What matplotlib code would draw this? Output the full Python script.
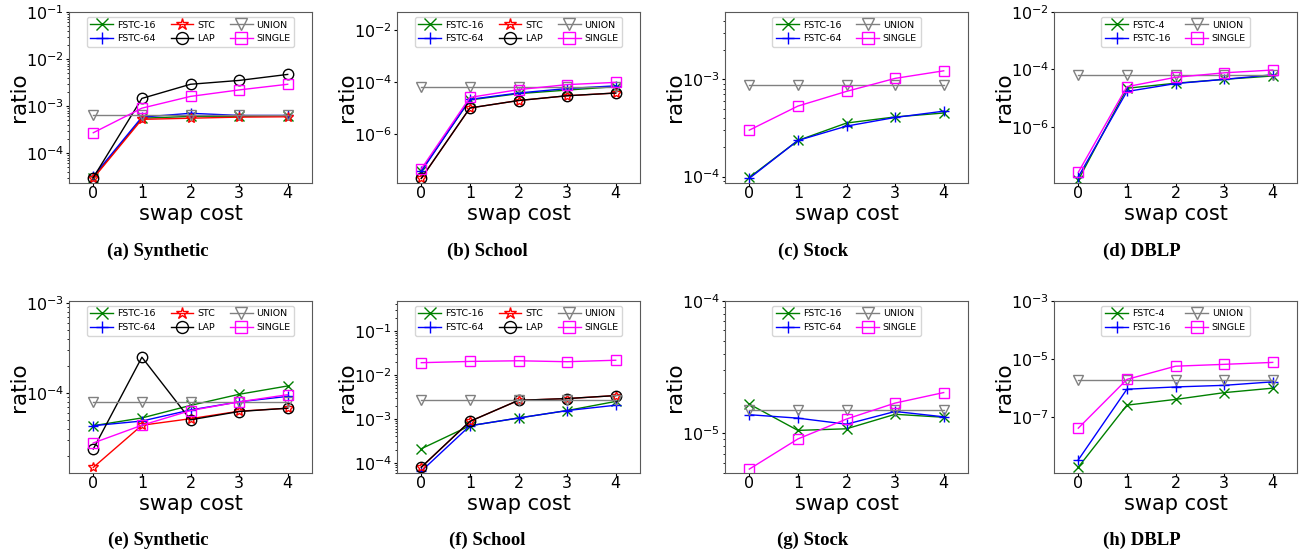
import numpy as np
import matplotlib
matplotlib.use("Agg")
import matplotlib.pyplot as plt

swap_cost = [0, 1, 2, 3, 4]

# top row
a_fstc16 = [3.0e-5, 5.5e-4, 6.0e-4, 6.0e-4, 6.2e-4]
a_fstc64 = [3.2e-5, 5.8e-4, 7.0e-4, 6.3e-4, 6.3e-4]
a_stc = [2.9e-5, 5.2e-4, 5.5e-4, 5.8e-4, 5.9e-4]
a_lap = [3.0e-5, 1.45e-3, 2.9e-3, 3.5e-3, 4.7e-3]
a_union = [6.5e-4, 6.5e-4, 6.5e-4, 6.5e-4, 6.5e-4]
a_single = [2.7e-4, 9.0e-4, 1.6e-3, 2.2e-3, 2.9e-3]

b_fstc16 = [3.8e-8, 2.0e-5, 3.5e-5, 4.8e-5, 6.5e-5]
b_fstc64 = [3.5e-8, 2.1e-5, 3.7e-5, 5.5e-5, 7.0e-5]
b_stc = [1.9e-8, 9.8e-6, 1.9e-5, 2.9e-5, 3.7e-5]
b_lap = [1.9e-8, 9.8e-6, 1.9e-5, 2.9e-5, 3.7e-5]
b_union = [6.4e-5, 6.4e-5, 6.4e-5, 6.4e-5, 6.4e-5]
b_single = [4.4e-8, 2.5e-5, 5.0e-5, 7.8e-5, 9.5e-5]

c_fstc16 = [9.8e-5, 2.35e-4, 3.55e-4, 4.1e-4, 4.5e-4]
c_fstc64 = [9.6e-5, 2.35e-4, 3.3e-4, 4.05e-4, 4.7e-4]
c_union = [8.7e-4, 8.7e-4, 8.7e-4, 8.7e-4, 8.7e-4]
c_single = [3.0e-4, 5.3e-4, 7.5e-4, 1.02e-3, 1.22e-3]

d_fstc4 = [1.4e-8, 2.2e-5, 3.3e-5, 4.5e-5, 5.9e-5]
d_fstc16 = [1.8e-8, 1.7e-5, 3.2e-5, 4.5e-5, 6.5e-5]
d_union = [6.3e-5, 6.3e-5, 6.3e-5, 6.3e-5, 6.3e-5]
d_single = [2.6e-8, 2.5e-5, 5.3e-5, 7.6e-5, 9.5e-5]

# bottom row
e_fstc16 = [4.35e-5, 5.3e-5, 7.3e-5, 9.7e-5, 1.2e-4]
e_fstc64 = [4.35e-5, 4.9e-5, 6.5e-5, 8.0e-5, 9.2e-5]
e_stc = [1.5e-5, 4.4e-5, 5.2e-5, 6.3e-5, 6.8e-5]
e_lap = [2.4e-5, 2.5e-4, 5.05e-5, 6.25e-5, 6.8e-5]
e_union = [7.9e-5, 7.9e-5, 7.9e-5, 7.9e-5, 7.9e-5]
e_single = [2.8e-5, 4.4e-5, 6.4e-5, 8.0e-5, 9.6e-5]

f_fstc16 = [2.1e-4, 7.0e-4, 1.05e-3, 1.55e-3, 2.5e-3]
f_fstc64 = [6.5e-5, 7.0e-4, 1.05e-3, 1.55e-3, 2.05e-3]
f_stc = [8.0e-5, 8.8e-4, 2.65e-3, 2.9e-3, 3.4e-3]
f_lap = [8.0e-5, 8.8e-4, 2.65e-3, 2.9e-3, 3.4e-3]
f_union = [2.75e-3, 2.75e-3, 2.75e-3, 2.75e-3, 2.75e-3]
f_single = [1.9e-2, 2.03e-2, 2.1e-2, 2.0e-2, 2.16e-2]

g_fstc16 = [1.66e-5, 1.05e-5, 1.08e-5, 1.39e-5, 1.32e-5]
g_fstc64 = [1.38e-5, 1.3e-5, 1.17e-5, 1.46e-5, 1.33e-5]
g_union = [1.5e-5, 1.5e-5, 1.5e-5, 1.5e-5, 1.5e-5]
g_single = [5.35e-6, 9.05e-6, 1.28e-5, 1.69e-5, 2.03e-5]

h_fstc4 = [1.9e-9, 2.6e-7, 4.1e-7, 7.0e-7, 1.0e-6]
h_fstc16 = [3.4e-9, 9.2e-7, 1.1e-6, 1.25e-6, 1.65e-6]
h_union = [1.9e-6, 1.9e-6, 1.9e-6, 1.9e-6, 1.9e-6]
h_single = [4.2e-8, 2.0e-6, 5.7e-6, 6.6e-6, 7.7e-6]

styles = {
    "FSTC": dict(color="green", marker="x"),
    "FSTC2": dict(color="blue", marker="+"),
    "STC": dict(color="red", marker="*", mfc="none"),
    "LAP": dict(color="black", marker="o", mfc="none"),
    "UNION": dict(color="gray", marker="v", mfc="none"),
    "SINGLE": dict(color="magenta", marker="s", mfc="none"),
}

panels = [
    # (series list, ylim, caption, ncol)
    ([("FSTC-16", a_fstc16, "FSTC"), ("FSTC-64", a_fstc64, "FSTC2"), ("STC", a_stc, "STC"),
      ("LAP", a_lap, "LAP"), ("UNION", a_union, "UNION"), ("SINGLE", a_single, "SINGLE")],
     (2.3e-5, 1e-1), "(a) Synthetic", 3),
    ([("FSTC-16", b_fstc16, "FSTC"), ("FSTC-64", b_fstc64, "FSTC2"), ("STC", b_stc, "STC"),
      ("LAP", b_lap, "LAP"), ("UNION", b_union, "UNION"), ("SINGLE", b_single, "SINGLE")],
     (1.26e-8, 4.9e-2), "(b) School", 3),
    ([("FSTC-16", c_fstc16, "FSTC"), ("FSTC-64", c_fstc64, "FSTC2"),
      ("UNION", c_union, "UNION"), ("SINGLE", c_single, "SINGLE")],
     (8.6e-5, 4.9e-3), "(c) Stock", 2),
    ([("FSTC-4", d_fstc4, "FSTC"), ("FSTC-16", d_fstc16, "FSTC2"),
      ("UNION", d_union, "UNION"), ("SINGLE", d_single, "SINGLE")],
     (1.1e-8, 1e-2), "(d) DBLP", 2),
    ([("FSTC-16", e_fstc16, "FSTC"), ("FSTC-64", e_fstc64, "FSTC2"), ("STC", e_stc, "STC"),
      ("LAP", e_lap, "LAP"), ("UNION", e_union, "UNION"), ("SINGLE", e_single, "SINGLE")],
     (1.3e-5, 1.05e-3), "(e) Synthetic", 3),
    ([("FSTC-16", f_fstc16, "FSTC"), ("FSTC-64", f_fstc64, "FSTC2"), ("STC", f_stc, "STC"),
      ("LAP", f_lap, "LAP"), ("UNION", f_union, "UNION"), ("SINGLE", f_single, "SINGLE")],
     (5.9e-5, 0.48), "(f) School", 3),
    ([("FSTC-16", g_fstc16, "FSTC"), ("FSTC-64", g_fstc64, "FSTC2"),
      ("UNION", g_union, "UNION"), ("SINGLE", g_single, "SINGLE")],
     (5.0e-6, 1.0e-4), "(g) Stock", 2),
    ([("FSTC-4", h_fstc4, "FSTC"), ("FSTC-16", h_fstc16, "FSTC2"),
      ("UNION", h_union, "UNION"), ("SINGLE", h_single, "SINGLE")],
     (1.2e-9, 1e-3), "(h) DBLP", 2),
]

W, H = 1307, 555
fig = plt.figure(figsize=(W / 100, H / 100), dpi=100)

lefts = [69, 397, 725, 1054]
caption_x = [158, 487, 813, 1142]
rows = [(12, 183, 251), (301, 473, 540)]

for i, (series, ylim, caption, ncol) in enumerate(panels):
    r, c = divmod(i, 4)
    top, bot, cap_y = rows[r]
    h = bot - top
    ax = fig.add_axes([lefts[c] / W, 1 - bot / H, 243 / W, h / H])
    for label, vals, key in series:
        ax.plot(swap_cost, vals, label=label, lw=1.0, ms=7.5, **styles[key])
    ax.set_yscale("log")
    ax.set_ylim(*ylim)
    ax.set_xlim(-0.5, 4.5)
    ax.set_xticks(swap_cost)
    ax.tick_params(labelsize=11.5, length=2)
    ax.tick_params(which="minor", length=1.2)
    ax.tick_params(axis="x", pad=0.5)
    ax.tick_params(axis="y", pad=1.5)
    for sp in ax.spines.values():
        sp.set_color("0.35")
    ax.set_xlabel("swap cost", fontsize=15)
    ax.xaxis.set_label_coords(0.5, -21 / h)
    ax.set_ylabel("ratio", fontsize=15.5)
    ax.yaxis.set_label_coords(-40 / 243, 0.5)
    ax.legend(loc="upper center", ncol=ncol, fontsize=6.8, markerscale=1.15,
              handlelength=2.4, handletextpad=0.4, columnspacing=1.6)
    fig.text(caption_x[c] / W, 1 - cap_y / H, caption, ha="center", va="center",
             fontsize=13.5, fontweight="bold", family="Liberation Serif")

fig.savefig("out.png", dpi=100)
